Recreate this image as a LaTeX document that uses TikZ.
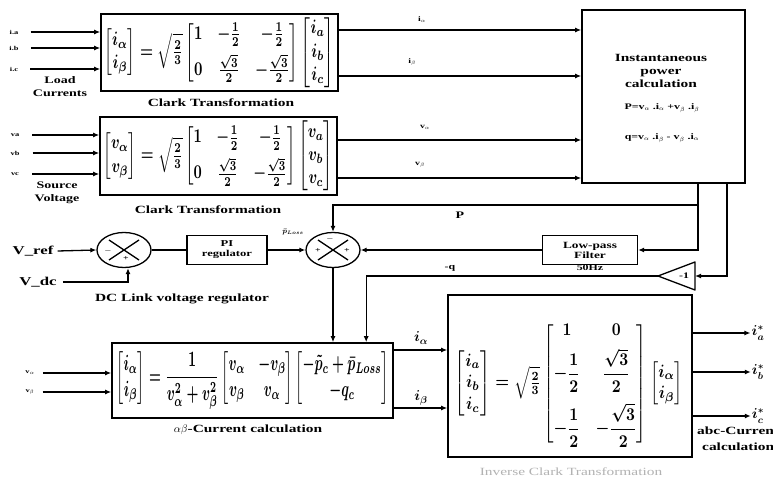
\documentclass[tikz,border=0pt]{standalone}
\usepackage{amsmath}
\usepackage{graphicx}
\usepackage{fontspec}
\setmainfont{Liberation Serif}[FakeStretch=1.4]
\usetikzlibrary{arrows.meta,shapes.geometric,calc}
\begin{document}
\begin{tikzpicture}[x=1pt,y=-1pt,
  blk/.style={draw, line width=1.6pt, inner sep=0pt},
  wire/.style={line width=1.3pt},
  arr/.style={wire, -{Latex[length=6pt,width=5pt]}},
  lbl/.style={font=\bfseries\fontsize{11}{13}\selectfont, align=center, inner sep=0pt},
  small/.style={font=\bfseries\fontsize{8.5}{10}\selectfont, align=center, inner sep=0pt},
  tiny/.style={font=\bfseries\fontsize{6}{7}\selectfont, inner sep=0pt},
  summer/.style={draw, ellipse, line width=1.3pt, minimum width=54pt, minimum height=35pt, inner sep=0pt},
  outl/.style={font=\fontsize{14}{14}\selectfont, inner sep=1pt}
]
\useasboundingbox[fill=white] (0,0) rectangle (773,478);

% ---------- Clark transformation 1 ----------
\node[blk, minimum width=237pt, minimum height=77pt] (c1) at (219.5,52.5)
 {\resizebox*{230pt}{70pt}{\boldmath$\begin{bmatrix} i_\alpha\\ i_\beta\end{bmatrix}=\sqrt{\frac{2}{3}}\begin{bmatrix}1 & -\frac{1}{2} & -\frac{1}{2}\\[4pt] 0 & \frac{\sqrt{3}}{2} & -\frac{\sqrt{3}}{2}\end{bmatrix}\begin{bmatrix}i_a\\ i_b\\ i_c\end{bmatrix}$}};
\node[tiny] (la) at (14,32) {i.a};
\node[tiny] (lb) at (14,48) {i.b};
\node[tiny] (lc) at (14,69) {i.c};
\draw[arr] ([xshift=12pt]la.east) -- (c1.west |- la.east);
\draw[arr] ([xshift=12pt]lb.east) -- (c1.west |- lb.east);
\draw[arr] ([xshift=12pt]lc.east) -- (c1.west |- lc.east);
\node[lbl, font=\bfseries\fontsize{10}{13}\selectfont] (lcur) at (60,87) {Load\\Currents};
\node[lbl] (ct1) at (221,103) {Clark Transformation};

% ---------- Clark transformation 2 ----------
\node[blk, minimum width=237pt, minimum height=78pt] (c2) at (218.5,156)
 {\resizebox*{230pt}{70pt}{\boldmath$\begin{bmatrix} v_\alpha\\ v_\beta\end{bmatrix}=\sqrt{\frac{2}{3}}\begin{bmatrix}1 & -\frac{1}{2} & -\frac{1}{2}\\[4pt] 0 & \frac{\sqrt{3}}{2} & -\frac{\sqrt{3}}{2}\end{bmatrix}\begin{bmatrix}v_a\\ v_b\\ v_c\end{bmatrix}$}};
\node[tiny] (va) at (15,135) {va};
\node[tiny] (vb) at (15,153) {vb};
\node[tiny] (vc) at (15,174) {vc};
\draw[arr] ([xshift=13pt]va.east) -- (c2.west |- va.east);
\draw[arr] ([xshift=13pt]vb.east) -- (c2.west |- vb.east);
\draw[arr] ([xshift=13pt]vc.east) -- (c2.west |- vc.east);
\node[lbl, font=\bfseries\fontsize{10}{13}\selectfont] (lsrc) at (57,193) {Source\\Voltage};
\node[lbl] (ct2) at (208,210) {Clark Transformation};

% ---------- Instantaneous power ----------
\node[blk, minimum width=163pt, minimum height=173pt] (ip) at (663.5,96.5) {};
\node[lbl] (ipt) at (661,71) {Instantaneous\\power\\calculation};
\node[small] (ipp) at (662,108) {P=v$_\alpha$ .i$_\alpha$ +v$_\beta$ .i$_\beta$};
\node[small] (ipq) at (662,138) {q=v$_\alpha$ .i$_\beta$ - v$_\beta$ .i$_\alpha$};

\draw[arr] (c1.east |- 0,30) -- (ip.west |- 0,30);
\draw[arr] (c1.east |- 0,76) -- (ip.west |- 0,76);
\draw[arr] (c2.east |- 0,140) -- (ip.west |- 0,140);
\draw[arr] (c2.east |- 0,178) -- (ip.west |- 0,178);
\node[tiny, font=\bfseries\fontsize{7}{8}\selectfont] (lia) at (422,20) {i$_\alpha$};
\node[tiny, font=\bfseries\fontsize{7}{8}\selectfont] (lib) at (412,62) {i$_\beta$};
\node[tiny, font=\bfseries\fontsize{7}{8}\selectfont] (lva) at (425,127) {v$_\alpha$};
\node[tiny, font=\bfseries\fontsize{7}{8}\selectfont] (lvb) at (420,165) {v$_\beta$};

% ---------- DC link regulator ----------
\node[summer] (s1) at (124,250) {};
\draw[wire] ($(s1.center)+(-15,-10)$) -- ($(s1.center)+(15,10)$);
\draw[wire] ($(s1.center)+(-15,10)$) -- ($(s1.center)+(15,-10)$);
\node[tiny, font=\bfseries\fontsize{9}{9}\selectfont] (s1m) at (108,251) {$-$};
\node[tiny, font=\bfseries\fontsize{7}{7}\selectfont] (s1p) at (126,259) {+};
\node[lbl, font=\bfseries\fontsize{12}{13}\selectfont] (vref) at (33,251) {V\_ref};
\node[lbl, font=\bfseries\fontsize{12}{13}\selectfont] (vdc) at (38,282) {V\_dc};
\draw[arr] ([xshift=4pt]vref.east) -- (s1.west);
\draw[arr] ([xshift=6pt]vdc.east) -| ($(s1.south)+(4,0)$);
\node[blk, line width=1.3pt, minimum width=80pt, minimum height=29pt, align=center, font=\bfseries\fontsize{9}{10}\selectfont] (pi) at (227,250) {PI\\regulator};
\draw[wire] (s1.east) -- (pi.west);
\node[lbl] (dcl) at (182,299) {DC Link voltage regulator};

\node[summer] (s2) at (333,250) {};
\draw[wire] ($(s2.center)+(-15,-10)$) -- ($(s2.center)+(15,10)$);
\draw[wire] ($(s2.center)+(-15,10)$) -- ($(s2.center)+(15,-10)$);
\node[tiny, font=\bfseries\fontsize{9}{9}\selectfont] (s2m) at (330,239) {$-$};
\node[tiny, font=\bfseries\fontsize{7}{7}\selectfont] (s2l) at (318,251) {+};
\node[tiny, font=\bfseries\fontsize{7}{7}\selectfont] (s2r) at (347,251) {+};
\draw[arr] (pi.east) -- (s2.west);
\node[tiny, font=\bfseries\fontsize{7}{8}\selectfont] (ploss) at (293,232) {$\boldsymbol{\bar{p}_{Loss}}$};

% ---------- Low-pass filter and feedback ----------
\node[blk, line width=1.3pt, minimum width=95pt, minimum height=29pt, align=center, font=\bfseries\fontsize{9.5}{10}\selectfont] (lpf) at (590,250) {Low-pass\\Filter};
\node[small] (hz) at (590,268) {50Hz};
\draw[arr] (ip.south -| 698,0) |- (lpf.east);
\coordinate (pj) at (698,205);
\draw[arr] (pj) -| (s2.north);
\node[small, font=\bfseries\fontsize{10}{10}\selectfont] (lp) at (460,215) {P};
\draw[arr] (lpf.west) -- (s2.east);

\coordinate (triA) at (658,276);
\coordinate (triR) at (695,276);
\draw[wire, line join=round] (triA) -- (695,262) -- (695,290) -- cycle;
\node[small] (gain) at (684,276) {-1};
\draw[arr] (ip.south -| 727,0) |- (triR);

% ---------- alpha-beta current calculation ----------
\node[blk, minimum width=281pt, minimum height=75pt] (ab) at (252.5,380.5)
 {\resizebox*{272pt}{58pt}{\boldmath$\begin{bmatrix} i_\alpha\\ i_\beta\end{bmatrix}=\dfrac{1}{v_\alpha^2+v_\beta^2}\begin{bmatrix}v_\alpha & -v_\beta\\ v_\beta & v_\alpha\end{bmatrix}\begin{bmatrix}-\tilde{p}_c+\bar{p}_{Loss}\\ -q_c\end{bmatrix}$}};
\draw[arr] (triA) -| ($(ab.north west)+(255,0)$);
\node[small] (lq) at (450,268) {-q};
\draw[arr] (s2.south) -- (s2.south |- ab.north);
\node[tiny] (vai) at (30,373) {v$_\alpha$};
\node[tiny] (vbi) at (30,392) {v$_\beta$};
\draw[arr] ([xshift=8pt]vai.east) -- (ab.west |- vai.east);
\draw[arr] ([xshift=8pt]vbi.east) -- (ab.west |- vbi.east);
\node[lbl] (abl) at (248,430) {$\alpha\beta$-Current calculation};

% ---------- Inverse Clark ----------
\node[blk, minimum width=244pt, minimum height=162pt] (inv) at (570,376) {};
\node[inner sep=0pt] (invm) at (569,383.5)
 {\resizebox*{228pt}{127pt}{\boldmath$\begin{bmatrix} i_a\\ i_b\\ i_c\end{bmatrix}=\sqrt{\frac{2}{3}}\begin{bmatrix}1 & 0\\[4pt] -\dfrac{1}{2} & \dfrac{\sqrt{3}}{2}\\[10pt] -\dfrac{1}{2} & -\dfrac{\sqrt{3}}{2}\end{bmatrix}\begin{bmatrix}i_\alpha\\ i_\beta\end{bmatrix}$}};
\draw[arr] (ab.east |- 0,350) -- (inv.west |- 0,350);
\draw[arr] (ab.east |- 0,408) -- (inv.west |- 0,408);
\node[outl] (ial) at (421,338) {$\boldsymbol{i_\alpha}$};
\node[outl] (ibl) at (421,398) {$\boldsymbol{i_\beta}$};
\node[outl] (oa) at (758,333) {$\boldsymbol{i_a^*}$};
\node[outl] (ob) at (758,372) {$\boldsymbol{i_b^*}$};
\node[outl] (oc) at (758,416) {$\boldsymbol{i_c^*}$};
\draw[arr] (inv.east |- oa.west) -- (oa.west);
\draw[arr] (inv.east |- ob.west) -- (ob.west);
\draw[arr] (inv.east |- oc.west) -- (oc.west);
\node[small, font=\bfseries\fontsize{11}{11}\selectfont, anchor=west] (abc1) at (697,431) {abc-Current};
\node[small, font=\bfseries\fontsize{11}{11}\selectfont, anchor=west] (abc2) at (702,447) {calculation};
\node[lbl, font=\fontsize{11}{12}\selectfont, text=gray!60] (ict) at (571,472) {Inverse Clark Transformation};
\end{tikzpicture}
\end{document}
